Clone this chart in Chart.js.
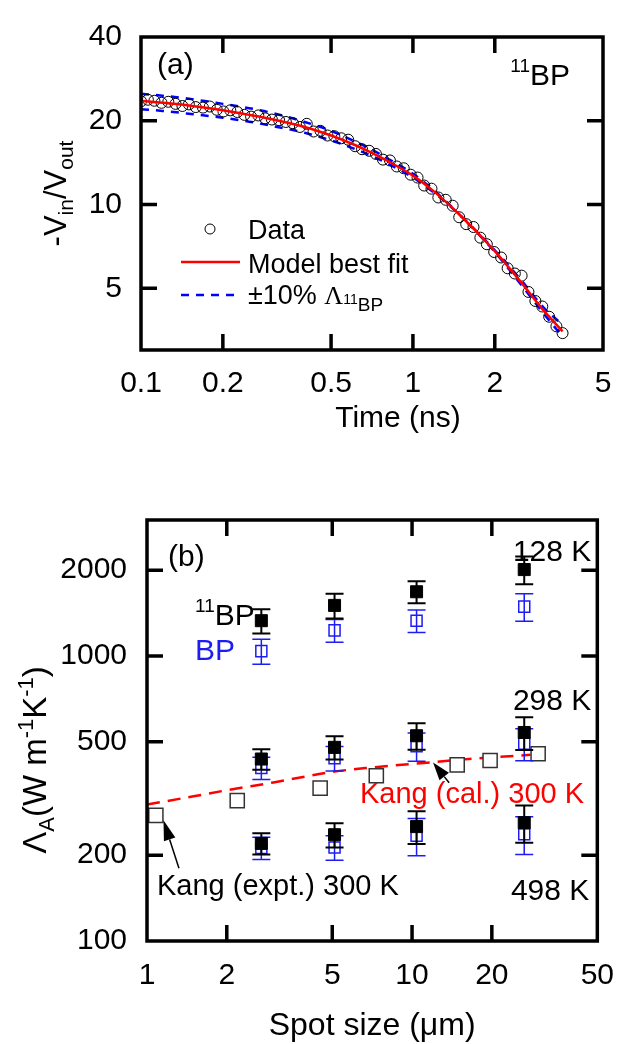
<!DOCTYPE html>
<html>
<head>
<meta charset="utf-8">
<script src="https://cdn.jsdelivr.net/npm/chart.js@4.4.0/dist/chart.umd.min.js"></script>
<style>
  html, body { margin: 0; padding: 0; background: #fff; }
  #wrap { position: relative; width: 631px; height: 1044px; }
  canvas { position: absolute; left: 0; }
  #chartA { top: 0; }
  #chartB { top: 480px; }
</style>
</head>
<body>
<div id="wrap">
  <canvas id="chartA" width="631" height="480"></canvas>
  <canvas id="chartB" width="631" height="564"></canvas>
</div>
<script>
// ---- panel (a): -Vin/Vout vs time ----
const timeNs = [0.100, 0.106, 0.112, 0.119, 0.126, 0.134, 0.142, 0.150, 0.159, 0.169,
  0.179, 0.190, 0.201, 0.213, 0.226, 0.240, 0.254, 0.270, 0.286, 0.303,
  0.322, 0.341, 0.362, 0.384, 0.407, 0.431, 0.457, 0.485, 0.514, 0.545,
  0.578, 0.613, 0.650, 0.690, 0.731, 0.776, 0.823, 0.872, 0.925, 0.981,
  1.04, 1.10, 1.17, 1.24, 1.32, 1.40, 1.48, 1.57, 1.67, 1.77,
  1.87, 1.99, 2.11, 2.23, 2.37, 2.51, 2.66, 2.82, 2.99, 3.17, 3.37, 3.55];
const ratioData = [23.5, 23.8, 23.6, 23.2, 23.4, 23.0, 22.6, 22.9, 22.4, 22.3,
  22.5, 21.9, 21.6, 21.8, 21.5, 21.0, 20.7, 20.9, 20.4, 20.2,
  20.1, 19.8, 19.6, 19.0, 19.5, 18.3, 18.4, 17.7, 17.6, 17.3,
  17.1, 16.2, 15.8, 15.6, 15.2, 14.5, 14.4, 13.7, 13.5, 12.8,
  12.5, 11.7, 11.4, 10.6, 10.4, 9.9, 9.0, 8.5, 8.3, 7.6,
  7.2, 6.75, 6.45, 5.9, 5.65, 5.55, 4.85, 4.5, 4.3, 3.95, 3.65, 3.45];
const fitTime = [0.1, 0.12, 0.15, 0.2, 0.25, 0.3, 0.4, 0.5, 0.6, 0.7, 0.8, 1.0, 1.2, 1.5, 2.0, 2.5, 3.0, 3.55];
const fitBest = [23.6, 23.2, 22.7, 21.8, 21.0, 20.3, 19.0, 17.7, 16.5, 15.4, 14.4, 12.7, 11.1, 9.1, 6.8, 5.25, 4.2, 3.5];
const fitPlus = [25.0, 24.6, 24.0, 23.0, 22.2, 21.4, 19.8, 18.4, 17.0, 15.8, 14.7, 12.9, 11.2, 9.1, 6.75, 5.15, 4.1, 3.35];
const fitMinus = [22.0, 21.7, 21.2, 20.5, 19.85, 19.2, 18.1, 17.0, 15.95, 15.0, 14.1, 12.5, 11.0, 9.1, 6.85, 5.35, 4.3, 3.7];
const timeTicks = [0.1, 0.2, 0.5, 1, 2, 5];
const ratioTicks = [5, 10, 20, 40];

// ---- panel (b): Lambda_A vs spot size ----
const spotSize = [2.7, 5.1, 10.4, 26.5];
const bp11_128 = [1330, 1505, 1680, 2010];
const bp11_128Err = [130, 150, 150, 225];
const bp_128 = [1040, 1230, 1330, 1490];
const bp_128Err = [105, 112, 120, 165];
const bp11_298 = [435, 478, 525, 539];
const bp11_298Err = [36, 45, 56, 71];
const bp_298 = [405, 438, 482, 492];
const bp_298Err = [36, 43, 55, 63];
const bp11_498 = [220, 236, 252, 260];
const bp11_498Err = [19, 23, 33, 39];
const bp_498 = [212, 213, 234, 237];
const bp_498Err = [19, 21, 35, 36];
const kangExptSize = [1.08, 2.19, 4.5, 7.33, 14.8, 19.7, 29.9];
const kangExpt = [276, 311, 344, 380, 415, 430, 454];
const kangCalSize = [1, 1.5, 2, 3, 5, 7, 10, 15, 20, 28];
const kangCal = [301, 322, 338, 360, 392, 406, 418, 432, 441, 450];
const spotTicks = [1, 2, 5, 10, 20, 50];
const lambdaTicks = [100, 200, 500, 1000, 2000];

const FONT = '"Liberation Sans", Arial, sans-serif';
const SERIF = '"Liberation Serif", "Times New Roman", serif';
const BLUE = '#1c1cf5';

const pts = (xs, ys) => xs.map((x, i) => ({ x: x, y: ys[i] }));

function rich(ctx, parts, x, base, align) {
    let w = 0;
    parts.forEach(p => { ctx.font = p[1] + 'px ' + (p[3] || FONT); w += ctx.measureText(p[0]).width; });
    let cx = align === 'center' ? x - w / 2 : (align === 'right' ? x - w : x);
    ctx.textAlign = 'left';
    ctx.textBaseline = 'alphabetic';
    parts.forEach(p => {
        ctx.font = p[1] + 'px ' + (p[3] || FONT);
        ctx.fillText(p[0], cx, base + (p[2] || 0));
        cx += ctx.measureText(p[0]).width;
    });
}

function drawFrame(chart, xt, yt) {
    const { ctx, chartArea: ca, scales: { x, y } } = chart;
    const L = 16;
    ctx.save();
    ctx.strokeStyle = '#000';
    ctx.lineWidth = 3.5;
    ctx.beginPath();
    xt.forEach(v => {
        const px = x.getPixelForValue(v);
        if (px < ca.left + 2 || px > ca.right - 2) return;
        ctx.moveTo(px, ca.bottom); ctx.lineTo(px, ca.bottom - L);
        ctx.moveTo(px, ca.top); ctx.lineTo(px, ca.top + L);
    });
    yt.forEach(v => {
        const py = y.getPixelForValue(v);
        if (py < ca.top + 2 || py > ca.bottom - 2) return;
        ctx.moveTo(ca.left, py); ctx.lineTo(ca.left + L, py);
        ctx.moveTo(ca.right, py); ctx.lineTo(ca.right - L, py);
    });
    ctx.stroke();
    ctx.strokeRect(ca.left, ca.top, ca.right - ca.left, ca.bottom - ca.top);
    ctx.restore();
}

function arrow(ctx, x0, y0, x1, y1, headLen, headHalf) {
    const a = Math.atan2(y1 - y0, x1 - x0);
    const bx = x1 - headLen * Math.cos(a), by = y1 - headLen * Math.sin(a);
    ctx.beginPath();
    ctx.moveTo(x0, y0); ctx.lineTo(bx, by);
    ctx.stroke();
    ctx.beginPath();
    ctx.moveTo(x1, y1);
    ctx.lineTo(bx + headHalf * Math.sin(a), by - headHalf * Math.cos(a));
    ctx.lineTo(bx - headHalf * Math.sin(a), by + headHalf * Math.cos(a));
    ctx.closePath();
    ctx.fill();
}

function logAxis(min, max, ticks, fit, pad) {
    return {
        type: 'logarithmic',
        min: min,
        max: max,
        afterBuildTicks: s => { s.ticks = ticks.map(v => ({ value: v })); },
        afterFit: fit,
        grid: { display: false, drawTicks: false },
        border: { display: false },
        ticks: {
            autoSkip: false, maxRotation: 0, padding: pad, color: '#000',
            font: { family: FONT, size: 30 },
            callback: v => String(v)
        }
    };
}

// ---------- chart (a) ----------
const panelA = {
    id: 'panelA',
    afterDraw(chart) {
        const { ctx, chartArea: ca } = chart;
        drawFrame(chart, timeTicks, ratioTicks);
        ctx.save();
        ctx.fillStyle = '#000';
        rich(ctx, [['(a)', 30]], ca.left + 16, ca.top + 37, 'left');
        rich(ctx, [['11', 19, -13], ['BP', 30]], ca.right - 33, ca.top + 48, 'right');

        // legend
        ctx.strokeStyle = '#000';
        ctx.lineWidth = 1;
        ctx.beginPath();
        ctx.arc(ca.left + 69, ca.top + 192, 5, 0, Math.PI * 2);
        ctx.stroke();
        ctx.strokeStyle = '#ff0000';
        ctx.lineWidth = 2.5;
        ctx.beginPath();
        ctx.moveTo(ca.left + 40, ca.top + 225); ctx.lineTo(ca.left + 99, ca.top + 225);
        ctx.stroke();
        ctx.strokeStyle = '#0000ff';
        ctx.setLineDash([8, 7]);
        ctx.beginPath();
        ctx.moveTo(ca.left + 40, ca.top + 258); ctx.lineTo(ca.left + 99, ca.top + 258);
        ctx.stroke();
        ctx.setLineDash([]);
        rich(ctx, [['Data', 27]], ca.left + 107, ca.top + 202, 'left');
        rich(ctx, [['Model best fit', 27]], ca.left + 107, ca.top + 236, 'left');
        rich(ctx, [['\u00b110% ', 27], ['\u039b', 26, 0, SERIF], ['11', 14], ['BP', 19, 7]], ca.left + 107, ca.top + 267, 'left');

        // axis titles
        rich(ctx, [['Time (ns)', 30]], ca.left + 257, ca.bottom + 77, 'center');
        ctx.translate(ca.left - 86, (ca.top + ca.bottom) / 2);
        ctx.rotate(-Math.PI / 2);
        rich(ctx, [['-V', 31], ['in', 21, 7], ['/V', 31], ['out', 21, 7]], 0, 11, 'center');
        ctx.restore();
    }
};

new Chart(document.getElementById('chartA'), {
    type: 'scatter',
    data: {
        datasets: [
            {
                label: 'Model best fit', data: pts(fitTime, fitBest), showLine: true,
                borderColor: '#ff0000', borderWidth: 2.5, pointRadius: 0,
                cubicInterpolationMode: 'monotone', order: 0
            },
            {
                label: 'Data', data: pts(timeNs, ratioData), showLine: false,
                pointStyle: 'circle', pointRadius: 5.5, pointBorderWidth: 1,
                pointBorderColor: '#000', pointBackgroundColor: 'rgba(255,255,255,0)', order: 1
            },
            {
                label: '+10%', data: pts(fitTime, fitPlus), showLine: true,
                borderColor: '#0000ff', borderWidth: 2.5, borderDash: [8, 7], pointRadius: 0,
                cubicInterpolationMode: 'monotone', order: 2
            },
            {
                label: '-10%', data: pts(fitTime, fitMinus), showLine: true,
                borderColor: '#0000ff', borderWidth: 2.5, borderDash: [8, 7], pointRadius: 0,
                cubicInterpolationMode: 'monotone', order: 3
            }
        ]
    },
    options: {
        responsive: false,
        animation: false,
        layout: { padding: { left: 0, top: 29, right: 28, bottom: 70 } },
        plugins: { legend: { display: false }, tooltip: { enabled: false } },
        scales: {
            x: logAxis(0.1, 5, timeTicks, s => { s.height = 60; }, 16),
            y: logAxis(3, 40, ratioTicks, s => { s.width = 141; }, 19)
        }
    },
    plugins: [panelA]
});

// ---------- chart (b) ----------
const errorBars = {
    id: 'errorBars',
    beforeDatasetDraw(chart, args) {
        const ds = chart.data.datasets[args.index];
        if (!ds.errors) return;
        const { ctx, scales: { x, y } } = chart;
        ctx.save();
        ctx.strokeStyle = ds.pointBorderColor;
        ctx.lineWidth = ds.errWidth;
        ctx.beginPath();
        ds.data.forEach((p, i) => {
            const px = x.getPixelForValue(p.x);
            const hi = y.getPixelForValue(p.y + ds.errors[i]);
            const lo = y.getPixelForValue(p.y - ds.errors[i]);
            ctx.moveTo(px, hi); ctx.lineTo(px, lo);
            ctx.moveTo(px - 9, hi); ctx.lineTo(px + 9, hi);
            ctx.moveTo(px - 9, lo); ctx.lineTo(px + 9, lo);
        });
        ctx.stroke();
        ctx.restore();
    }
};

const panelB = {
    id: 'panelB',
    afterDraw(chart) {
        const { ctx, chartArea: ca, scales: { x, y } } = chart;
        drawFrame(chart, spotTicks, lambdaTicks);
        ctx.save();
        ctx.fillStyle = '#000';
        rich(ctx, [['(b)', 30]], ca.left + 21, ca.top + 46, 'left');
        rich(ctx, [['128 K', 30]], ca.right - 6, ca.top + 41, 'right');
        rich(ctx, [['298 K', 30]], ca.right - 6, ca.top + 190, 'right');
        rich(ctx, [['498 K', 30]], ca.right - 8, ca.top + 380, 'right');
        rich(ctx, [['11', 19, -13], ['BP', 30]], ca.left + 48, ca.top + 105, 'left');
        rich(ctx, [['Kang (expt.) 300 K', 29]], ca.left + 10, ca.top + 375, 'left');
        ctx.fillStyle = BLUE;
        rich(ctx, [['BP', 30]], ca.left + 48, ca.top + 140, 'left');
        ctx.fillStyle = '#ff0000';
        rich(ctx, [['Kang (cal.) 300 K', 29]], ca.left + 213, ca.top + 283, 'left');

        // arrows pointing at the Kang curves
        ctx.fillStyle = '#000';
        ctx.strokeStyle = '#000';
        ctx.lineWidth = 1.5;
        arrow(ctx, x.getPixelForValue(13.8), y.getPixelForValue(359),
            x.getPixelForValue(12.0), y.getPixelForValue(423), 18, 6);
        arrow(ctx, x.getPixelForValue(1.32), y.getPixelForValue(180),
            x.getPixelForValue(1.154), y.getPixelForValue(265), 20, 6);

        // axis titles
        ctx.fillStyle = '#000';
        rich(ctx, [['Spot size (\u03bcm)', 32]], (ca.left + ca.right) / 2, ca.bottom + 94, 'center');
        ctx.translate(ca.left - 113, ca.top + 240);
        ctx.rotate(-Math.PI / 2);
        rich(ctx, [['\u039b', 33], ['A', 22, 8], ['(W m', 33], ['-1', 22, -13], ['K', 33], ['-1', 22, -13], [')', 33]], 0, 12, 'center');
        ctx.restore();
    }
};

function seriesSet(label, ys, errs, filled, order) {
    return {
        label: label, data: pts(spotSize, ys), errors: errs, showLine: false,
        pointStyle: 'rect',
        pointRadius: filled ? 8.5 : 7.8,
        pointBorderWidth: filled ? 1 : 1.5,
        pointBorderColor: filled ? '#000' : BLUE,
        pointBackgroundColor: filled ? '#000' : 'rgba(255,255,255,0)',
        errWidth: filled ? 2 : 1.5,
        order: order
    };
}

new Chart(document.getElementById('chartB'), {
    type: 'scatter',
    data: {
        datasets: [
            seriesSet('11BP 128 K', bp11_128, bp11_128Err, true, 0),
            seriesSet('11BP 298 K', bp11_298, bp11_298Err, true, 0),
            seriesSet('11BP 498 K', bp11_498, bp11_498Err, true, 0),
            seriesSet('BP 128 K', bp_128, bp_128Err, false, 1),
            seriesSet('BP 298 K', bp_298, bp_298Err, false, 1),
            seriesSet('BP 498 K', bp_498, bp_498Err, false, 1),
            {
                label: 'Kang (expt.)', data: pts(kangExptSize, kangExpt), showLine: false,
                pointStyle: 'rect', pointRadius: 10, pointBorderWidth: 1.5,
                pointBorderColor: '#333', pointBackgroundColor: '#fff', order: 2
            },
            {
                label: 'Kang (cal.)', data: pts(kangCalSize, kangCal), showLine: true,
                borderColor: '#ff0000', borderWidth: 2.5, borderDash: [13, 8], pointRadius: 0,
                cubicInterpolationMode: 'monotone', order: 3
            }
        ]
    },
    options: {
        responsive: false,
        animation: false,
        layout: { padding: { left: 0, top: 40, right: 20, bottom: 43 } },
        plugins: { legend: { display: false }, tooltip: { enabled: false } },
        scales: {
            x: logAxis(1, 50, spotTicks, s => { s.height = 60; }, 17),
            y: logAxis(100, 3000, lambdaTicks, s => { s.width = 147; }, 20)
        }
    },
    plugins: [errorBars, panelB]
});
</script>
</body>
</html>
